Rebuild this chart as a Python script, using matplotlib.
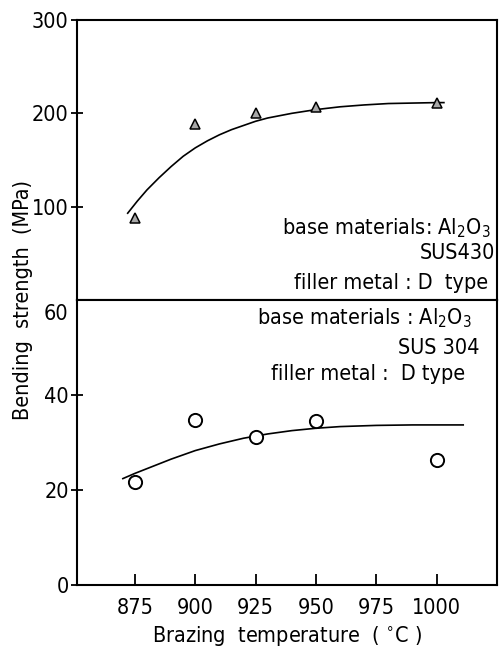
import matplotlib
matplotlib.use('Agg')
import matplotlib.pyplot as plt
import matplotlib.transforms as mtransforms

plt.rcParams['font.family'] = ['DejaVu Sans']
plt.rcParams['font.stretch'] = 'condensed'
plt.rcParams['mathtext.fontset'] = 'custom'
plt.rcParams['mathtext.rm'] = 'DejaVu Sans:stretch=condensed'
plt.rcParams['mathtext.it'] = 'DejaVu Sans:stretch=condensed'

# measured points, SUS430 (top) and SUS304 (bottom)
temp_430 = [875, 900, 925, 950, 1000]
strength_430 = [88, 189, 200, 207, 211]
temp_304 = [875, 900, 925, 950, 1000]
strength_304 = [21.7, 34.7, 31.1, 34.6, 26.3]

# hand drawn trend curves
curve_430_t = [872, 876, 880, 885, 890, 895, 900, 905, 910, 915, 920, 925, 930,
               940, 950, 960, 970, 980, 990, 1000, 1003]
curve_430_s = [93, 106, 118, 131, 143, 154, 163, 170.5, 177, 182.5, 187, 191.5, 195,
               200, 204, 207, 209, 210.5, 211, 211.5, 211.5]
curve_304_t = [870, 875, 880, 885, 890, 895, 900, 910, 920, 930, 940, 950,
               960, 975, 990, 1000, 1011]
curve_304_s = [22.4, 23.5, 24.5, 25.5, 26.5, 27.4, 28.3, 29.7, 30.9, 31.8, 32.5, 33.0,
               33.35, 33.6, 33.7, 33.7, 33.7]

xticks = [875, 900, 925, 950, 975, 1000]

fs = 15.5
fig = plt.figure(figsize=(5.02, 6.53), dpi=100)
L, W = 77/502, 420/502
ax1 = fig.add_axes([L, 1-300/653, W, 280/653])
ax2 = fig.add_axes([L, 1-585/653, W, 285/653])

for ax in (ax1, ax2):
    ax.set_xlim(851, 1025)
    for s in ax.spines.values():
        s.set_linewidth(1.5)

# top panel
ax1.plot(curve_430_t, curve_430_s, color='black', lw=1.2)
ax1.plot(temp_430, strength_430, linestyle='none', marker='^', ms=7,
         mfc='#a8a8a8', mec='black', mew=1.1)
ax1.set_ylim(0, 300)
ax1.set_yticks([100, 200, 300])
ax1.set_xticks([])
ax1.tick_params(axis='y', direction='inout', length=8, width=1.3, labelsize=fs, pad=2)
ax1.text(0.985, 0.255, 'base materials: Al$_2$O$_3$', transform=ax1.transAxes,
         ha='right', va='center', fontsize=fs)
ax1.text(0.995, 0.168, 'SUS430', transform=ax1.transAxes,
         ha='right', va='center', fontsize=fs)
ax1.text(0.98, 0.06, 'filler metal : D  type', transform=ax1.transAxes,
         ha='right', va='center', fontsize=fs)

# bottom panel
ax2.plot(curve_304_t, curve_304_s, color='black', lw=1.2)
ax2.plot(temp_304, strength_304, linestyle='none', marker='o', ms=9.5,
         mfc='white', mec='black', mew=1.4)
ax2.set_ylim(0, 60)
ax2.set_yticks([0, 20, 40])
ax2.set_xticks(xticks)
ax2.tick_params(axis='y', direction='inout', length=8, width=1.3, labelsize=fs, pad=2)
ax2.tick_params(axis='x', direction='in', length=8, width=1.3, labelsize=fs, pad=9)
trans = mtransforms.blended_transform_factory(ax2.transAxes, ax2.transData)
ax2.text(-0.02, 57.0, '60', transform=trans, ha='right', va='center', fontsize=fs)
ax2.text(0.94, 0.935, 'base materials : Al$_2$O$_3$', transform=ax2.transAxes,
         ha='right', va='center', fontsize=fs)
ax2.text(0.958, 0.83, 'SUS 304', transform=ax2.transAxes,
         ha='right', va='center', fontsize=fs)
ax2.text(0.925, 0.742, 'filler metal :  D type', transform=ax2.transAxes,
         ha='right', va='center', fontsize=fs)
ax2.set_xlabel('Brazing  temperature  ( $^{\\circ}$C )', fontsize=fs, labelpad=5)

fig.text(0.045, 1-300/653, 'Bending  strength  (MPa)', rotation=90,
         ha='center', va='center', fontsize=fs)

fig.savefig('out.png', dpi=100)
